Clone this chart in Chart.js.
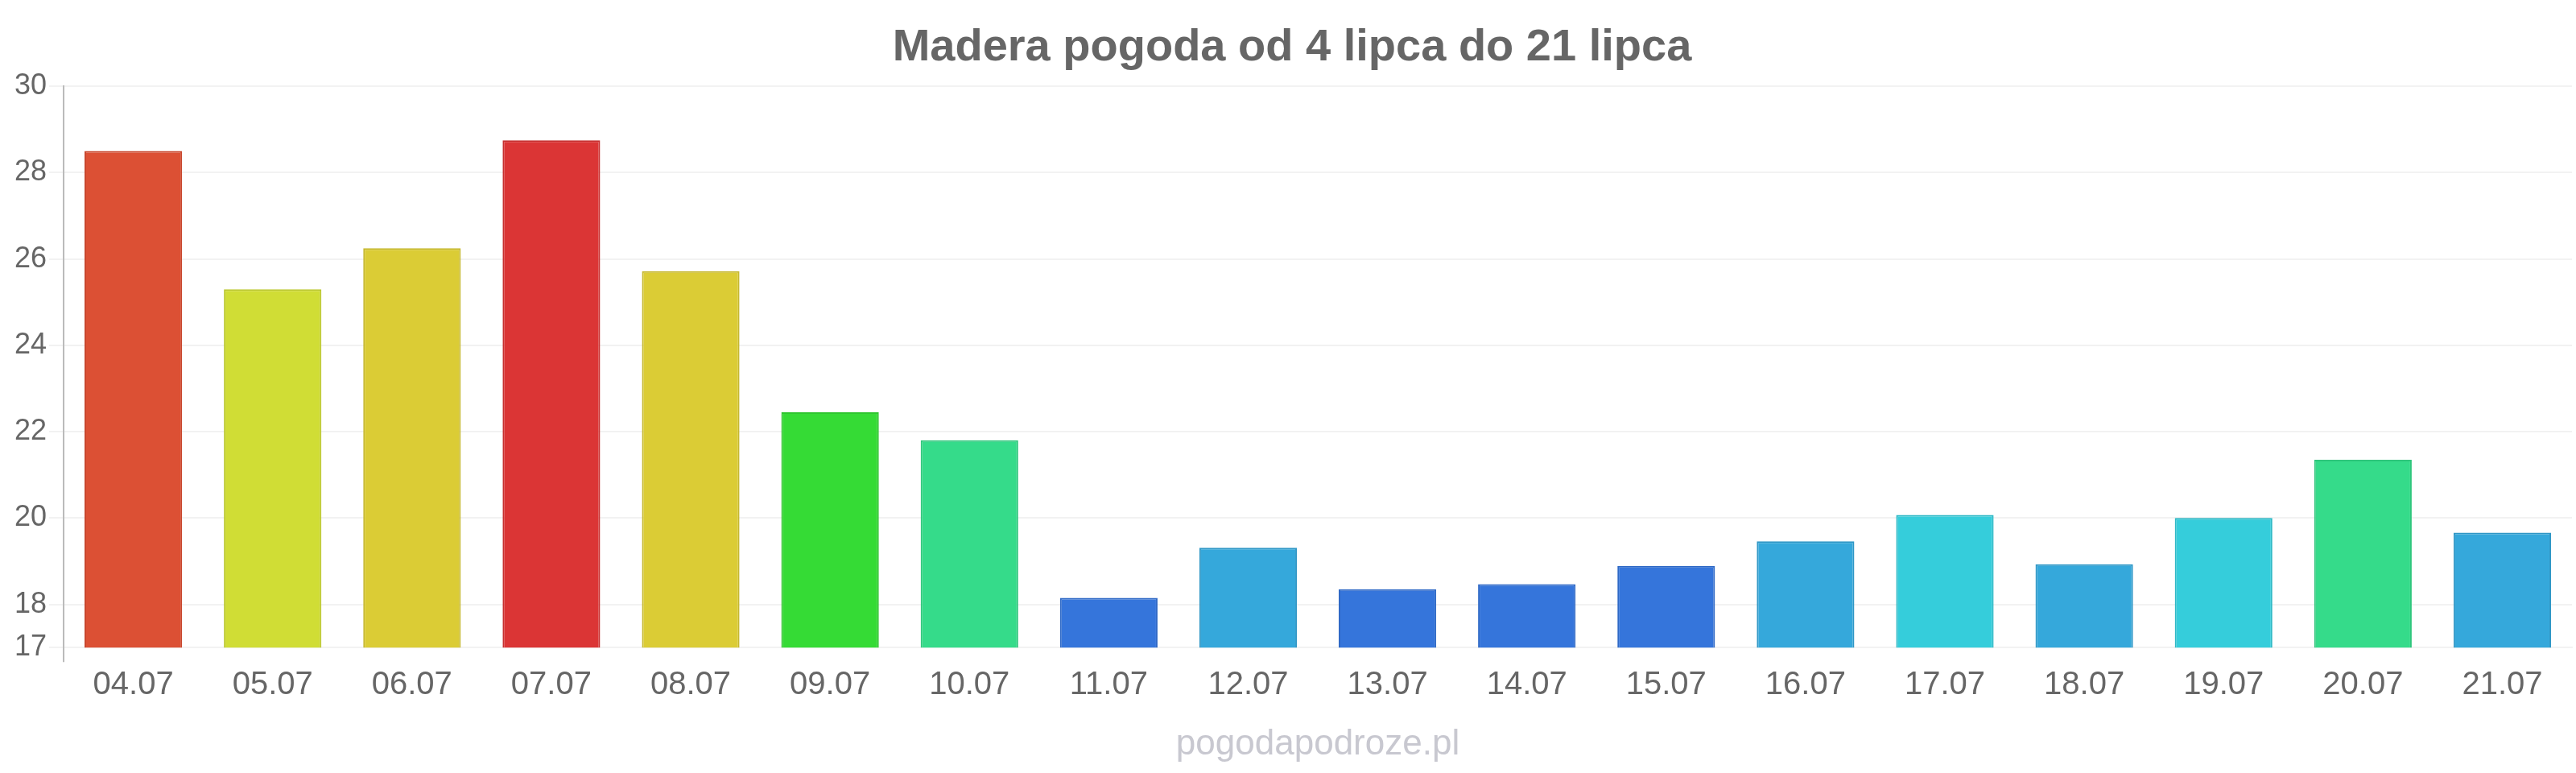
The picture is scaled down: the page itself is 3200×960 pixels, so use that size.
<!DOCTYPE html>
<html>
<head>
<meta charset="utf-8">
<script src="https://cdn.jsdelivr.net/npm/chart.js@4/dist/chart.umd.min.js"></script>
<style>
  html, body { margin: 0; padding: 0; background: #ffffff; }
  #wrap { width: 3200px; height: 960px; }
</style>
</head>
<body>
<div id="wrap"><canvas id="c" width="3200" height="960"></canvas></div>
<script>
const categories = ["04.07","05.07","06.07","07.07","08.07","09.07","10.07","11.07","12.07","13.07","14.07","15.07","16.07","17.07","18.07","19.07","20.07","21.07"];
const temperatures = [28.5, 25.3, 26.25, 28.75, 25.72, 22.45, 21.8, 18.15, 19.31, 18.35, 18.47, 18.89, 19.46, 20.07, 18.93, 20.0, 21.35, 19.66];
const barColors = ["#dc5034","#d0dd35","#dbcc35","#db3535","#dbcc35","#35db35","#35db8a","#3575db","#35a8db","#3575db","#3575db","#3575db","#35a8db","#35cddb","#35a8db","#35cddb","#35db8a","#35a8db"];
const borderColors = ["#c8472e","#bcc830","#c6b82f","#c62f2f","#c6b82f","#2fc62f","#2fc67c","#2f69c6","#2f97c6","#2f69c6","#2f69c6","#2f69c6","#2f97c6","#2fb9c6","#2f97c6","#2fb9c6","#2fc67c","#2f97c6"];
const yTicks = [17, 18, 20, 22, 24, 26, 28, 30];
const titleText = "Madera pogoda od 4 lipca do 21 lipca";
const sourceText = "pogodapodroze.pl";

const FONT = "'Liberation Sans', Arial, Helvetica, sans-serif";

new Chart(document.getElementById('c'), {
  type: 'bar',
  data: {
    labels: categories,
    datasets: [{
      data: temperatures,
      backgroundColor: barColors,
      borderColor: borderColors,
      borderWidth: 2,
      barPercentage: 0.7,
      categoryPercentage: 1.0
    }]
  },
  options: {
    responsive: false,
    devicePixelRatio: 1,
    animation: false,
    layout: { padding: { left: 15, right: 5, top: 0, bottom: 0 } },
    plugins: {
      legend: { display: false },
      tooltip: { enabled: false },
      title: {
        display: true,
        text: titleText,
        color: '#666666',
        font: { family: FONT, size: 56, weight: 'bold' },
        padding: { top: 26, bottom: 14 }
      },
      subtitle: {
        display: true,
        position: 'bottom',
        fullSize: false,
        text: sourceText,
        color: '#c8c8d0',
        font: { family: FONT, size: 44, weight: 'normal' },
        padding: { top: 18, bottom: 9 }
      }
    },
    scales: {
      x: {
        grid: {
          display: true,
          drawOnChartArea: false,
          color: (ctx) => ctx.index === 0 ? '#bbbbbb' : 'rgba(0,0,0,0)',
          lineWidth: 2,
          tickLength: 18
        },
        border: { display: true, color: '#f2f2f2', width: 2 },
        ticks: {
          color: '#666666',
          font: { family: FONT, size: 40 },
          padding: 5,
          maxRotation: 0,
          autoSkip: false
        }
      },
      y: {
        min: 17,
        max: 30,
        afterBuildTicks: (scale) => { scale.ticks = yTicks.map(v => ({ value: v })); },
        grid: {
          color: '#f2f2f2',
          lineWidth: 2,
          tickLength: 18
        },
        border: { display: true, color: '#bbbbbb', width: 2 },
        ticks: {
          color: '#666666',
          font: { family: FONT, size: 36 },
          padding: 3
        }
      }
    }
  }
});
</script>
</body>
</html>
